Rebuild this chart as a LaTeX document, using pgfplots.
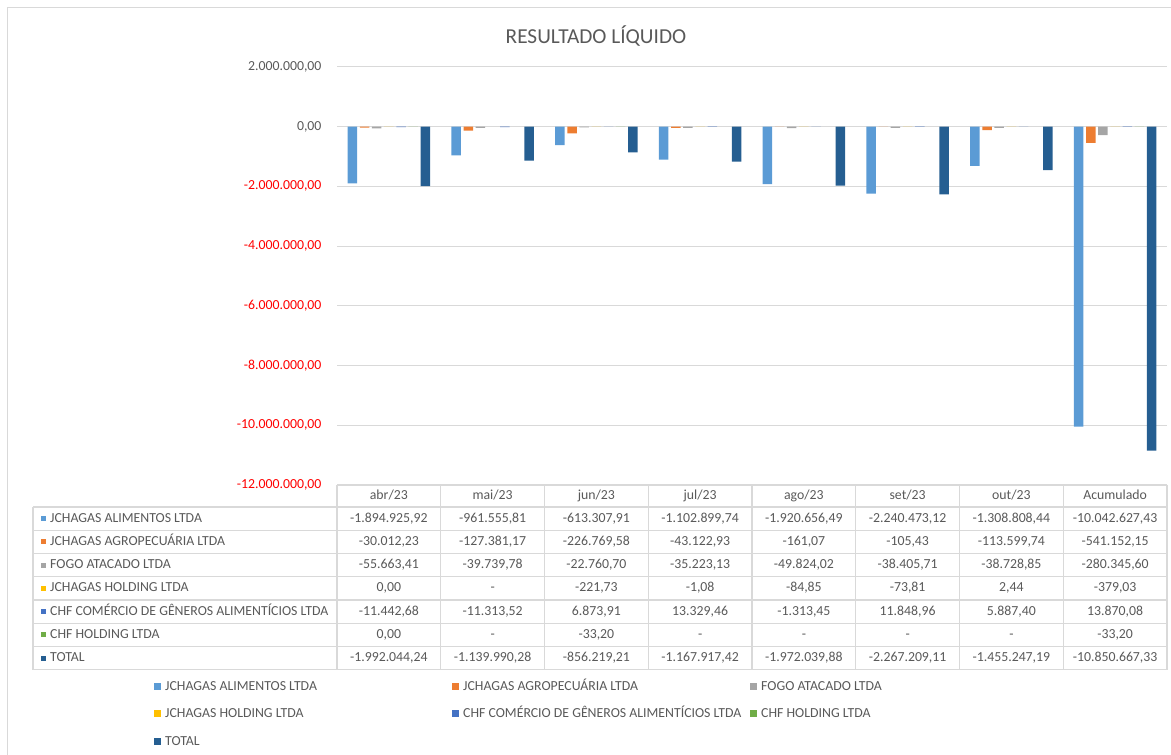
\documentclass[border=0pt]{standalone}
\usepackage{pgfplots}
\pgfplotsset{compat=1.18}
\usepackage{fontspec}
\setmainfont{Carlito}
\definecolor{cAli}{HTML}{5B9BD5}
\definecolor{cAgro}{HTML}{ED7D31}
\definecolor{cFogo}{HTML}{A5A5A5}
\definecolor{cHold}{HTML}{FFC000}
\definecolor{cChf}{HTML}{4472C4}
\definecolor{cChfH}{HTML}{70AD47}
\definecolor{cTot}{HTML}{255E91}
\definecolor{txt}{HTML}{595959}
\definecolor{grd}{HTML}{D9D9D9}
\definecolor{neg}{HTML}{FF0000}
\newcommand{\tf}{\fontsize{13.8}{16}\selectfont}
\newcommand{\trow}[9]{%
 \node[cell] at (388.875,#1) {#2};
 \node[cell] at (492.625,#1) {#3};
 \node[cell] at (596.375,#1) {#4};
 \node[cell] at (700.125,#1) {#5};
 \node[cell] at (803.875,#1) {#6};
 \node[cell] at (907.625,#1) {#7};
 \node[cell] at (1011.375,#1) {#8};
 \node[cell] at (1115.125,#1) {#9};
}
\newcommand{\tlab}[3]{%
 \fill[#2] (41,#1-2.5) rectangle (46,#1+2.5);
 \node[cell, anchor=west] at (50,#1) {#3};
}
\newcommand{\leg}[4]{%
 \fill[#3] (#1,#2-3.5) rectangle (#1+7,#2+3.5);
 \node[cell, anchor=west] at (#1+11,#2) {#4};
}
\begin{document}
\begin{tikzpicture}
\path[use as bounding box] (0,0) rectangle (1171pt,755pt);
\begin{axis}[
  at={(337pt,270pt)}, anchor=south west, scale only axis,
  width=830pt, height=418pt,
  xmin=-0.5, xmax=7.5, ymin=-12000000, ymax=2000000,
  ybar=2.67pt, bar width=9.5pt,
  xtick=\empty,
  scaled y ticks=false,
  ytick={-12000000,-10000000,-8000000,-6000000,-4000000,-2000000,0,2000000},
  yticklabels={{\textcolor{neg}{-12.000.000,00}},{\textcolor{neg}{-10.000.000,00}},{\textcolor{neg}{-8.000.000,00}},{\textcolor{neg}{-6.000.000,00}},{\textcolor{neg}{-4.000.000,00}},{\textcolor{neg}{-2.000.000,00}},{\textcolor{txt}{0,00}},{\textcolor{txt}{2.000.000,00}}},
  yticklabel style={font=\tf, xshift=-12pt, text height=9pt, text depth=2pt},
  ymajorgrids, grid style={grd, line width=1pt},
  axis line style={draw=none}, major tick length=0pt,
]
\addplot[fill=cAli, draw=none] coordinates {(0,-1894925.92) (1,-961555.81) (2,-613307.91) (3,-1102899.74) (4,-1920656.49) (5,-2240473.12) (6,-1308808.44) (7,-10042627.43)};
\addplot[fill=cAgro, draw=none] coordinates {(0,-30012.23) (1,-127381.17) (2,-226769.58) (3,-43122.93) (4,-161.07) (5,-105.43) (6,-113599.74) (7,-541152.15)};
\addplot[fill=cFogo, draw=none] coordinates {(0,-55663.41) (1,-39739.78) (2,-22760.70) (3,-35223.13) (4,-49824.02) (5,-38405.71) (6,-38728.85) (7,-280345.60)};
\addplot[fill=cHold, draw=none] coordinates {(0,0) (1,nan) (2,-221.73) (3,-1.08) (4,-84.85) (5,-73.81) (6,2.44) (7,-379.03)};
\addplot[fill=cChf, draw=none] coordinates {(0,-11442.68) (1,-11313.52) (2,6873.91) (3,13329.46) (4,-1313.45) (5,11848.96) (6,5887.40) (7,13870.08)};
\addplot[fill=cChfH, draw=none] coordinates {(0,0) (1,nan) (2,-33.20) (3,nan) (4,nan) (5,nan) (6,nan) (7,-33.20)};
\addplot[fill=cTot, draw=none] coordinates {(0,-1992044.24) (1,-1139990.28) (2,-856219.21) (3,-1167917.42) (4,-1972039.88) (5,-2267209.11) (6,-1455247.19) (7,-10850667.33)};
\end{axis}
\begin{scope}[x=1pt, y=-1pt, yshift=755pt, cell/.style={inner sep=0pt, text=txt, font=\tf, text height=9.5pt, text depth=2.5pt}]
 % outer frame
 \draw[grd, line width=1pt] (7,760) -- (7,8) -- (1175,8);
 % title
 \node[text=txt, font=\fontsize{21.3}{25}\selectfont, inner sep=0pt] at (596,36) {RESULTADO LÍQUIDO};
 % table grid
 \draw[grd, line width=1.2pt] (337,485) -- (1167,485);
 \foreach \y in {507,530.25,553.5,576.75,600,623.25,646.5,669.75} {\draw[grd, line width=1.2pt] (33,\y) -- (1167,\y);}
 \draw[grd, line width=1.2pt] (33,507) -- (33,669.75);
 \foreach \k in {0,...,8} {\draw[grd, line width=1.2pt] (337+103.75*\k,485) -- (337+103.75*\k,669.75);}
 % header
 \trow{496.5}{abr/23}{mai/23}{jun/23}{jul/23}{ago/23}{set/23}{out/23}{Acumulado}
 \tlab{518.6}{cAli}{JCHAGAS ALIMENTOS LTDA}
 \trow{518.6}{-1.894.925,92}{-961.555,81}{-613.307,91}{-1.102.899,74}{-1.920.656,49}{-2.240.473,12}{-1.308.808,44}{-10.042.627,43}
 \tlab{541.9}{cAgro}{JCHAGAS AGROPECUÁRIA LTDA}
 \trow{541.9}{-30.012,23}{-127.381,17}{-226.769,58}{-43.122,93}{-161,07}{-105,43}{-113.599,74}{-541.152,15}
 \tlab{565.1}{cFogo}{FOGO ATACADO LTDA}
 \trow{565.1}{-55.663,41}{-39.739,78}{-22.760,70}{-35.223,13}{-49.824,02}{-38.405,71}{-38.728,85}{-280.345,60}
 \tlab{588.4}{cHold}{JCHAGAS HOLDING LTDA}
 \trow{588.4}{0,00}{-}{-221,73}{-1,08}{-84,85}{-73,81}{2,44}{-379,03}
 \tlab{611.6}{cChf}{CHF COMÉRCIO DE GÊNEROS ALIMENTÍCIOS LTDA}
 \trow{611.6}{-11.442,68}{-11.313,52}{6.873,91}{13.329,46}{-1.313,45}{11.848,96}{5.887,40}{13.870,08}
 \tlab{634.9}{cChfH}{CHF HOLDING LTDA}
 \trow{634.9}{0,00}{-}{-33,20}{-}{-}{-}{-}{-33,20}
 \tlab{658.1}{cTot}{TOTAL}
 \trow{658.1}{-1.992.044,24}{-1.139.990,28}{-856.219,21}{-1.167.917,42}{-1.972.039,88}{-2.267.209,11}{-1.455.247,19}{-10.850.667,33}
 % legend
 \leg{154}{687}{cAli}{JCHAGAS ALIMENTOS LTDA}
 \leg{452}{687}{cAgro}{JCHAGAS AGROPECUÁRIA LTDA}
 \leg{750}{687}{cFogo}{FOGO ATACADO LTDA}
 \leg{154}{714}{cHold}{JCHAGAS HOLDING LTDA}
 \leg{452}{714}{cChf}{CHF COMÉRCIO DE GÊNEROS ALIMENTÍCIOS LTDA}
 \leg{750}{714}{cChfH}{CHF HOLDING LTDA}
 \leg{154}{742}{cTot}{TOTAL}
\end{scope}
\end{tikzpicture}
\end{document}
